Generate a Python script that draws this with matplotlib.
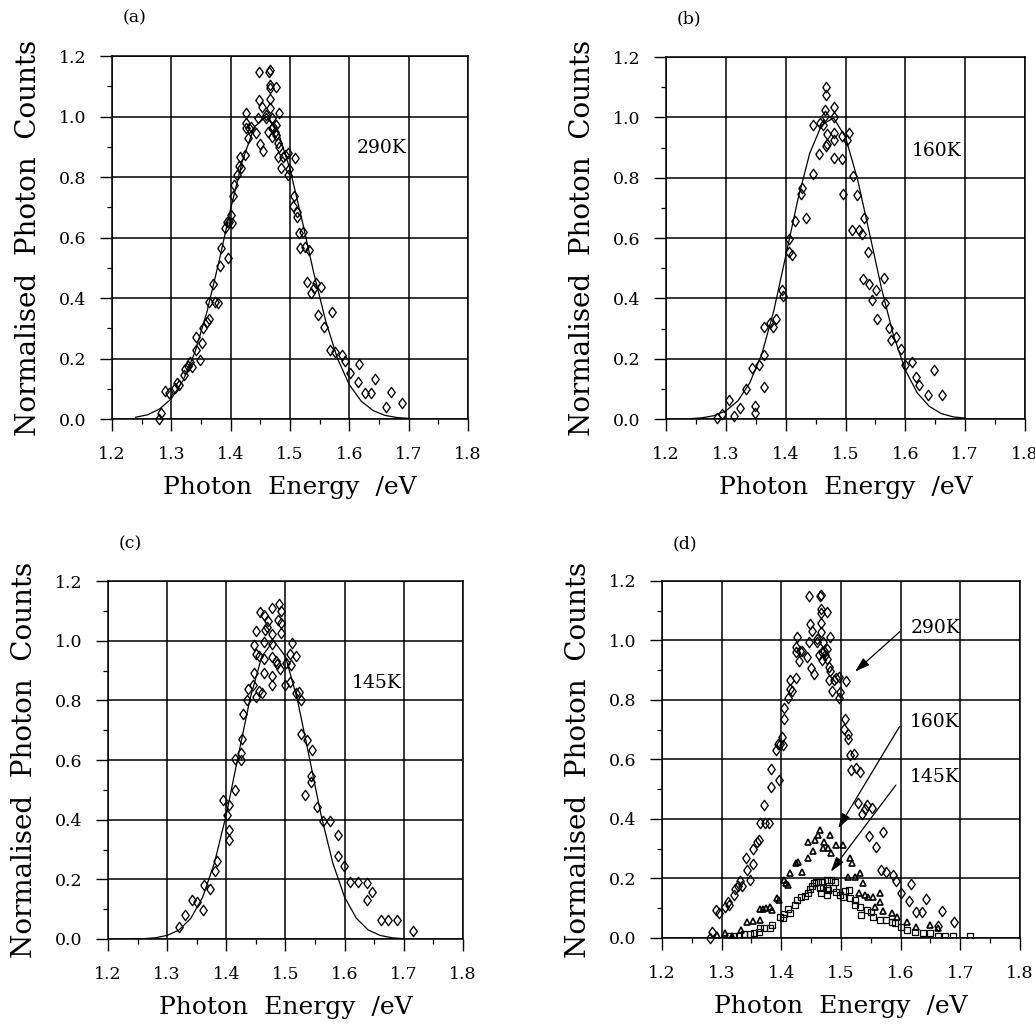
import numpy as np
import matplotlib
matplotlib.use("Agg")
import matplotlib.pyplot as plt
from matplotlib.ticker import MultipleLocator, FormatStrFormatter

plt.rcParams['font.family'] = ['DejaVu Serif']

# ---- 290K data (panel a, also the diamonds of panel d)
e290 = [1.280, 1.283, 1.290, 1.296, 1.306, 1.310, 1.313, 1.321, 1.323, 1.328,
        1.331, 1.334, 1.341, 1.342, 1.348, 1.352, 1.353, 1.360, 1.363, 1.364,
        1.371, 1.373, 1.379, 1.382, 1.383, 1.391, 1.394, 1.396, 1.398, 1.401,
        1.403, 1.404, 1.405, 1.411, 1.414, 1.415, 1.418, 1.424, 1.425, 1.425,
        1.426, 1.429, 1.431, 1.435, 1.443, 1.446, 1.447, 1.449, 1.448, 1.452,
        1.455, 1.459, 1.460, 1.463, 1.464, 1.466, 1.467, 1.467, 1.467, 1.467,
        1.469, 1.469, 1.470, 1.471, 1.474, 1.476, 1.477, 1.477, 1.480, 1.481,
        1.480, 1.482, 1.485, 1.488, 1.491, 1.497, 1.497, 1.498, 1.505, 1.508,
        1.507, 1.512, 1.512, 1.515, 1.516, 1.522, 1.525, 1.528, 1.532, 1.536,
        1.540, 1.543, 1.547, 1.552, 1.558, 1.567, 1.571, 1.575, 1.588, 1.592,
        1.601, 1.614, 1.617, 1.626, 1.636, 1.643, 1.662, 1.670, 1.689]
c290 = [0.000, 0.019, 0.094, 0.085, 0.104, 0.120, 0.112, 0.145, 0.164, 0.175,
        0.190, 0.173, 0.270, 0.228, 0.195, 0.250, 0.300, 0.322, 0.329, 0.388,
        0.446, 0.388, 0.385, 0.506, 0.567, 0.633, 0.652, 0.531, 0.652, 0.674,
        0.649, 0.737, 0.774, 0.807, 0.836, 0.867, 0.829, 0.873, 0.961, 0.977,
        1.013, 0.930, 0.963, 0.966, 0.944, 0.994, 1.148, 0.909, 1.055, 1.033,
        0.887, 1.005, 0.994, 0.950, 1.148, 1.027, 1.057, 1.154, 1.093, 1.104,
        0.961, 0.933, 0.994, 0.966, 0.950, 0.939, 1.096, 0.972, 0.867, 1.010,
        0.911, 0.898, 0.829, 0.867, 0.873, 0.878, 0.807, 0.825, 0.704, 0.862,
        0.737, 0.669, 0.685, 0.614, 0.564, 0.619, 0.570, 0.454, 0.559, 0.415,
        0.432, 0.448, 0.344, 0.437, 0.305, 0.228, 0.355, 0.223, 0.212, 0.192,
        0.151, 0.123, 0.181, 0.087, 0.087, 0.131, 0.041, 0.090, 0.052]

# ---- 160K data (panel b)
e160 = [1.285, 1.294, 1.306, 1.313, 1.324, 1.333, 1.343, 1.349, 1.349, 1.355,
        1.364, 1.364, 1.364, 1.374, 1.379, 1.384, 1.393, 1.395, 1.405, 1.406,
        1.411, 1.416, 1.426, 1.428, 1.434, 1.445, 1.446, 1.456, 1.457, 1.463,
        1.465, 1.466, 1.467, 1.467, 1.467, 1.469, 1.469, 1.481, 1.481, 1.480,
        1.481, 1.481, 1.494, 1.496, 1.494, 1.502, 1.506, 1.513, 1.511, 1.519,
        1.523, 1.528, 1.531, 1.537, 1.529, 1.540, 1.544, 1.551, 1.553, 1.564,
        1.566, 1.572, 1.576, 1.584, 1.592, 1.599, 1.611, 1.618, 1.623, 1.637,
        1.648, 1.661]
c160 = [0.002, 0.015, 0.063, 0.010, 0.035, 0.098, 0.168, 0.043, 0.019, 0.179,
        0.105, 0.212, 0.306, 0.319, 0.306, 0.330, 0.429, 0.407, 0.598, 0.554,
        0.543, 0.657, 0.747, 0.766, 0.665, 0.811, 0.974, 0.880, 0.981, 0.974,
        1.004, 1.023, 1.101, 1.075, 0.905, 0.913, 0.946, 1.001, 1.034, 0.948,
        0.926, 0.866, 0.863, 0.747, 0.937, 0.924, 0.948, 0.805, 0.626, 0.744,
        0.626, 0.615, 0.665, 0.554, 0.463, 0.449, 0.396, 0.427, 0.333, 0.466,
        0.383, 0.302, 0.262, 0.273, 0.231, 0.179, 0.190, 0.140, 0.113, 0.079,
        0.162, 0.079]

# ---- 145K data (panel c)
e145 = [1.320, 1.331, 1.342, 1.350, 1.361, 1.363, 1.372, 1.381, 1.385, 1.395,
        1.402, 1.404, 1.405, 1.405, 1.415, 1.414, 1.425, 1.425, 1.426, 1.428,
        1.435, 1.436, 1.445, 1.446, 1.447, 1.450, 1.451, 1.451, 1.456, 1.456,
        1.457, 1.460, 1.463, 1.464, 1.464, 1.464, 1.466, 1.468, 1.471, 1.477,
        1.477, 1.478, 1.478, 1.478, 1.478, 1.484, 1.485, 1.488, 1.489, 1.491,
        1.492, 1.492, 1.493, 1.499, 1.501, 1.507, 1.508, 1.509, 1.511, 1.517,
        1.518, 1.523, 1.526, 1.526, 1.536, 1.533, 1.544, 1.545, 1.543, 1.554,
        1.564, 1.575, 1.588, 1.588, 1.599, 1.609, 1.622, 1.637, 1.637, 1.647,
        1.661, 1.674, 1.688, 1.716]
c145 = [0.040, 0.079, 0.130, 0.124, 0.098, 0.180, 0.169, 0.228, 0.262, 0.465,
        0.415, 0.449, 0.365, 0.331, 0.499, 0.605, 0.622, 0.600, 0.669, 0.753,
        0.801, 0.837, 0.853, 0.890, 0.985, 0.812, 0.955, 1.032, 0.949, 0.831,
        1.097, 0.826, 0.890, 0.937, 0.997, 1.086, 1.036, 1.047, 1.067, 0.851,
        0.881, 0.989, 0.946, 1.021, 1.108, 0.932, 0.922, 1.069, 1.123, 0.904,
        1.101, 1.058, 1.025, 0.851, 0.926, 0.862, 0.955, 0.918, 0.993, 0.949,
        0.826, 0.829, 0.801, 0.687, 0.667, 0.484, 0.546, 0.633, 0.527, 0.443,
        0.395, 0.396, 0.347, 0.279, 0.244, 0.191, 0.191, 0.188, 0.130, 0.158,
        0.065, 0.065, 0.065, 0.026]

# ---- fitted curves, read on a 0.02 eV grid
fit_e = [1.24, 1.26, 1.28, 1.30, 1.32, 1.34, 1.36, 1.38, 1.40, 1.42, 1.44, 1.46,
         1.48, 1.50, 1.52, 1.54, 1.56, 1.58, 1.60, 1.62, 1.64, 1.66, 1.68, 1.70]
fit290 = [0.006, 0.014, 0.033, 0.067, 0.128, 0.222, 0.354, 0.518, 0.695, 0.855,
          0.966, 1.000, 0.949, 0.826, 0.660, 0.483, 0.325, 0.200, 0.113, 0.059,
          0.028, 0.012, 0.005, 0.002]
fit160 = [0.001, 0.004, 0.011, 0.027, 0.060, 0.120, 0.215, 0.358, 0.540, 0.725,
          0.880, 0.975, 0.998, 0.934, 0.795, 0.616, 0.434, 0.278, 0.162, 0.086,
          0.042, 0.018, 0.007, 0.003]
fit145 = [0.000, 0.001, 0.004, 0.012, 0.030, 0.069, 0.140, 0.255, 0.417, 0.612,
          0.804, 0.947, 1.000, 0.947, 0.804, 0.612, 0.417, 0.255, 0.140, 0.069,
          0.030, 0.012, 0.004, 0.001]

# ---- panel (d): 160K and 145K on the common scale
e160d = [1.293, 1.306, 1.317, 1.333, 1.342, 1.353, 1.364, 1.364, 1.370, 1.375,
         1.381, 1.384, 1.393, 1.396, 1.404, 1.408, 1.412, 1.414, 1.425, 1.428,
         1.434, 1.445, 1.445, 1.453, 1.456, 1.462, 1.465, 1.470, 1.471, 1.479,
         1.481, 1.484, 1.492, 1.504, 1.515, 1.518, 1.512, 1.523, 1.532, 1.537,
         1.530, 1.540, 1.545, 1.553, 1.566, 1.566, 1.557, 1.571, 1.585, 1.594,
         1.611, 1.626, 1.649, 1.663]
c160d = [0.010, 0.016, 0.007, 0.027, 0.055, 0.058, 0.060, 0.096, 0.096, 0.100,
         0.103, 0.094, 0.133, 0.128, 0.195, 0.184, 0.178, 0.217, 0.251, 0.256,
         0.223, 0.268, 0.324, 0.293, 0.329, 0.346, 0.363, 0.301, 0.324, 0.301,
         0.346, 0.287, 0.312, 0.312, 0.268, 0.251, 0.206, 0.204, 0.217, 0.184,
         0.150, 0.144, 0.137, 0.137, 0.152, 0.122, 0.103, 0.092, 0.083, 0.069,
         0.055, 0.038, 0.044, 0.032]
e145d = [1.313, 1.321, 1.329, 1.337, 1.347, 1.354, 1.362, 1.364, 1.371, 1.381,
         1.385, 1.398, 1.403, 1.404, 1.411, 1.414, 1.423, 1.427, 1.433, 1.439,
         1.445, 1.448, 1.451, 1.455, 1.458, 1.462, 1.465, 1.467, 1.469, 1.470,
         1.476, 1.476, 1.476, 1.479, 1.484, 1.487, 1.490, 1.492, 1.498, 1.504,
         1.506, 1.514, 1.515, 1.523, 1.523, 1.532, 1.534, 1.543, 1.551, 1.554,
         1.565, 1.576, 1.585, 1.590, 1.601, 1.610, 1.624, 1.638, 1.649, 1.663,
         1.675, 1.688, 1.716]
c145d = [0.005, 0.005, 0.008, 0.012, 0.013, 0.018, 0.020, 0.032, 0.032, 0.035,
         0.044, 0.072, 0.066, 0.081, 0.096, 0.085, 0.111, 0.128, 0.137, 0.141,
         0.152, 0.163, 0.175, 0.184, 0.189, 0.189, 0.167, 0.150, 0.189, 0.172,
         0.195, 0.167, 0.144, 0.161, 0.195, 0.167, 0.189, 0.156, 0.144, 0.137,
         0.159, 0.161, 0.133, 0.128, 0.111, 0.103, 0.077, 0.094, 0.088, 0.072,
         0.060, 0.060, 0.055, 0.049, 0.038, 0.027, 0.021, 0.016, 0.018, 0.005,
         0.005, 0.005, 0.005]

# tall open diamond
diamond = [(-0.36, 0.0), (0.0, 0.5), (0.36, 0.0), (0.0, -0.5), (-0.36, 0.0)]

fig = plt.figure(figsize=(10.35, 10.26), dpi=100)

positions = {
    'a': [0.1082, 0.5916, 0.3440, 0.3538],
    'b': [0.6435, 0.5916, 0.3469, 0.3528],
    'c': [0.1043, 0.0848, 0.3430, 0.3489],
    'd': [0.6396, 0.0858, 0.3459, 0.3480],
}


def setup_axes(ax, tag):
    ax.set_xlim(1.2, 1.8)
    ax.set_ylim(0.0, 1.2)
    ax.xaxis.set_major_locator(MultipleLocator(0.1))
    ax.xaxis.set_minor_locator(MultipleLocator(0.05))
    ax.yaxis.set_major_locator(MultipleLocator(0.2))
    ax.yaxis.set_minor_locator(MultipleLocator(0.1))
    ax.xaxis.set_major_formatter(FormatStrFormatter('%.1f'))
    ax.yaxis.set_major_formatter(FormatStrFormatter('%.1f'))
    ax.tick_params(which='major', direction='out', length=8.5, width=1.0,
                   labelsize=12.5, pad=10)
    ax.tick_params(axis='x', which='major', pad=11)
    ax.tick_params(which='minor', direction='out', length=3.6, width=0.9)
    ax.grid(True, which='major', color='black', linewidth=1.1)
    for sp in ax.spines.values():
        sp.set_linewidth(1.1)
    ax.set_axisbelow(True)
    ax.set_xlabel('Photon  Energy  /eV', fontsize=18, labelpad=9)
    ax.set_ylabel('Normalised  Photon  Counts', fontsize=20, labelpad=12)
    ax.text(1.238, 1.325, '(' + tag + ')', fontsize=12.5, ha='center',
            va='center', clip_on=False)


def scatter_diamonds(ax, x, y):
    ax.plot(x, y, linestyle='none', marker=diamond, markersize=7.5,
            markerfacecolor='none', markeredgecolor='black',
            markeredgewidth=0.95, clip_on=False)


axa = fig.add_axes(positions['a'])
setup_axes(axa, 'a')
axa.plot(fit_e, fit290, color='black', linewidth=0.9)
scatter_diamonds(axa, e290, c290)
axa.text(1.613, 0.896, '290K', fontsize=13.5, va='center')

axb = fig.add_axes(positions['b'])
setup_axes(axb, 'b')
axb.plot(fit_e, fit160, color='black', linewidth=0.9)
scatter_diamonds(axb, e160, c160)
axb.text(1.611, 0.89, '160K', fontsize=13.5, va='center')

axc = fig.add_axes(positions['c'])
setup_axes(axc, 'c')
axc.plot(fit_e, fit145, color='black', linewidth=0.9)
scatter_diamonds(axc, e145, c145)
axc.text(1.612, 0.858, '145K', fontsize=13.5, va='center')

axd = fig.add_axes(positions['d'])
setup_axes(axd, 'd')
scatter_diamonds(axd, e290, c290)
axd.plot(e160d, c160d, linestyle='none', marker='^', markersize=4.2,
         markerfacecolor='none', markeredgecolor='black', markeredgewidth=1.2)
axd.plot(e145d, c145d, linestyle='none', marker='s', markersize=5,
         markerfacecolor='none', markeredgecolor='black', markeredgewidth=0.9)

arrow = dict(arrowstyle='-|>,head_length=0.9,head_width=0.28',
             color='black', linewidth=0.9, shrinkA=0, shrinkB=0)
axd.annotate('', xy=(1.5235, 0.895), xytext=(1.599, 1.03), arrowprops=arrow)
axd.annotate('', xy=(1.4955, 0.369), xytext=(1.598, 0.710), arrowprops=arrow)
axd.annotate('', xy=(1.483, 0.223), xytext=(1.592, 0.514), arrowprops=arrow)
axd.text(1.616, 1.042, '290K', fontsize=13.5, va='center')
axd.text(1.616, 0.726, '160K', fontsize=13.5, va='center')
axd.text(1.616, 0.541, '145K', fontsize=13.5, va='center')

fig.savefig('out.png', dpi=100)
